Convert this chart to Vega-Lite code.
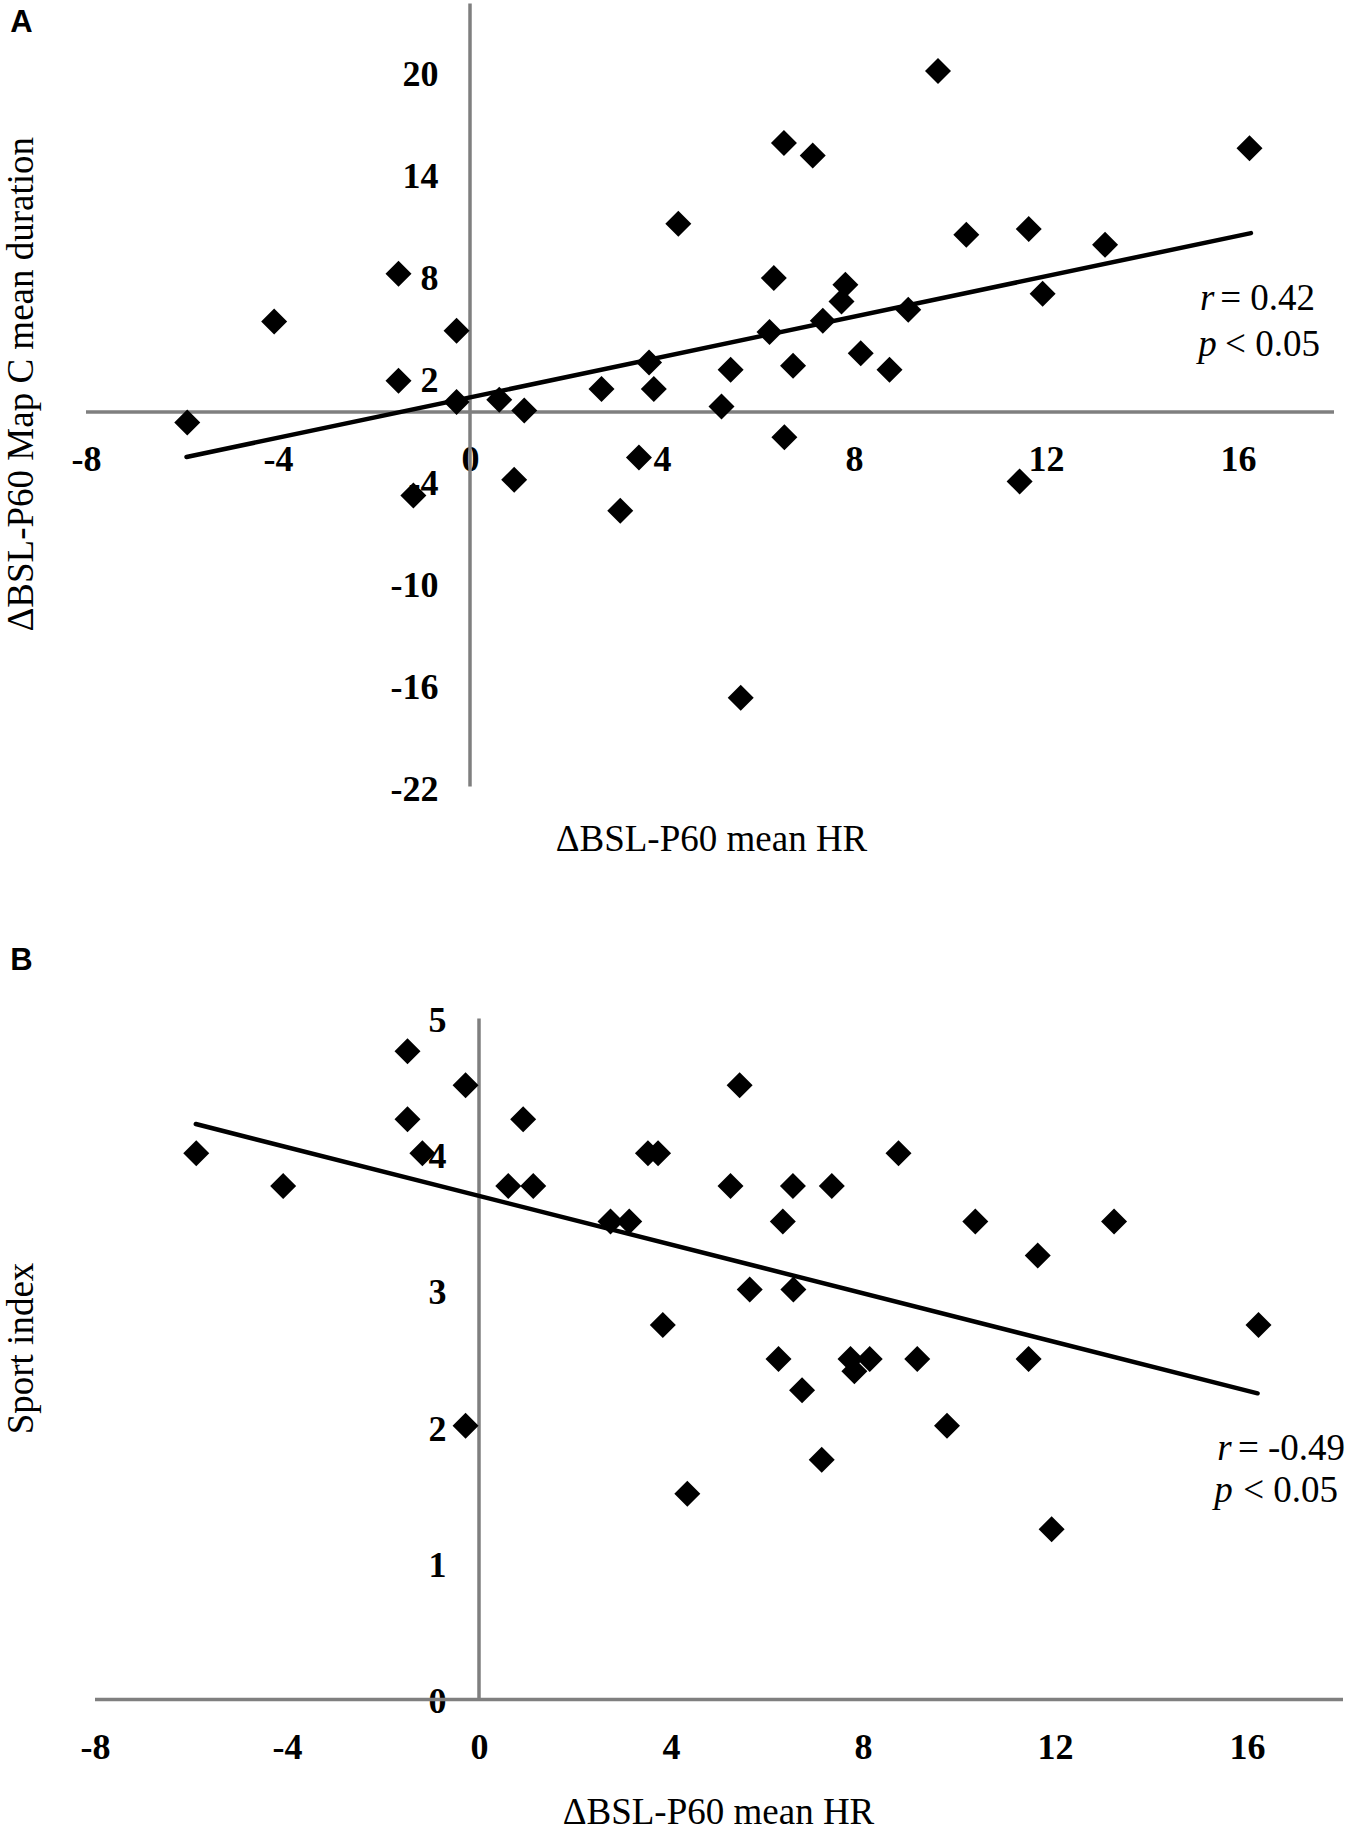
{
  "$schema": "https://vega.github.io/schema/vega-lite/v6.json",
  "background": "white",
  "padding": {"left": 2, "top": 1.5, "right": 4, "bottom": 0},
  "autosize": {"type": "pad"},
  "config": {"view": {"stroke": null}, "axis": {"grid": false}},
  "bounds": "flush",
  "spacing": 232,
  "datasets": {
    "ptsA": [
      {"x": -5.89, "y": -0.61}, {"x": -4.08, "y": 5.32}, {"x": -1.49, "y": 8.12}, {"x": -1.49, "y": 1.84},
      {"x": -1.18, "y": -4.9}, {"x": -0.28, "y": 4.77}, {"x": -0.28, "y": 0.59}, {"x": 0.61, "y": 0.72},
      {"x": 0.92, "y": -3.98}, {"x": 1.13, "y": 0.09}, {"x": 2.74, "y": 1.35}, {"x": 3.13, "y": -5.8},
      {"x": 3.52, "y": -2.67}, {"x": 3.73, "y": 2.91}, {"x": 3.83, "y": 1.35}, {"x": 4.34, "y": 11.06},
      {"x": 5.24, "y": 0.33}, {"x": 5.43, "y": 2.48}, {"x": 5.64, "y": -16.79}, {"x": 6.24, "y": 4.7},
      {"x": 6.33, "y": 7.87}, {"x": 6.54, "y": 15.8}, {"x": 6.55, "y": -1.48}, {"x": 6.73, "y": 2.72},
      {"x": 7.14, "y": 15.07}, {"x": 7.35, "y": 5.36}, {"x": 7.74, "y": 6.49}, {"x": 7.82, "y": 7.47},
      {"x": 8.14, "y": 3.46}, {"x": 8.74, "y": 2.48}, {"x": 9.13, "y": 6.01}, {"x": 9.75, "y": 20.04},
      {"x": 10.34, "y": 10.41}, {"x": 11.45, "y": -4.08}, {"x": 11.64, "y": 10.75}, {"x": 11.93, "y": 6.95},
      {"x": 13.23, "y": 9.82}, {"x": 16.24, "y": 15.5}
    ],
    "ptsB": [
      {"x": -5.89, "y": 4.01}, {"x": -4.08, "y": 3.77}, {"x": -1.49, "y": 4.76}, {"x": -1.49, "y": 4.26},
      {"x": -1.18, "y": 4.01}, {"x": -0.28, "y": 4.51}, {"x": -0.28, "y": 2.01}, {"x": 0.61, "y": 3.77},
      {"x": 0.92, "y": 4.26}, {"x": 1.13, "y": 3.77}, {"x": 2.74, "y": 3.51}, {"x": 3.13, "y": 3.51},
      {"x": 3.52, "y": 4.01}, {"x": 3.73, "y": 4.01}, {"x": 3.83, "y": 2.75}, {"x": 4.34, "y": 1.51},
      {"x": 5.24, "y": 3.77}, {"x": 5.43, "y": 4.51}, {"x": 5.64, "y": 3.01}, {"x": 6.24, "y": 2.5},
      {"x": 6.33, "y": 3.51}, {"x": 6.54, "y": 3.77}, {"x": 6.55, "y": 3.01}, {"x": 6.73, "y": 2.27},
      {"x": 7.14, "y": 1.76}, {"x": 7.35, "y": 3.77}, {"x": 7.74, "y": 2.5}, {"x": 7.82, "y": 2.41},
      {"x": 8.14, "y": 2.5}, {"x": 8.74, "y": 4.01}, {"x": 9.13, "y": 2.5}, {"x": 9.75, "y": 2.01},
      {"x": 10.34, "y": 3.51}, {"x": 11.45, "y": 2.5}, {"x": 11.64, "y": 3.26}, {"x": 11.93, "y": 1.25},
      {"x": 13.23, "y": 3.51}, {"x": 16.24, "y": 2.75}
    ],
    "axA": [
      {"x": -8, "x2": 18, "y": 0, "y2": 0},
      {"x": 0, "x2": 0, "y": -22, "y2": 24}
    ],
    "axB": [
      {"x": -8, "x2": 18, "y": 0, "y2": 0},
      {"x": 0, "x2": 0, "y": 0, "y2": 5}
    ],
    "fitA": [{"x": -5.906, "y": -2.64}, {"x": 16.27, "y": 10.51}],
    "fitB": [{"x": -5.9, "y": 4.225}, {"x": 16.22, "y": 2.248}],
    "itA": [{"x": 15.21, "y": 6.01, "t": "r"}, {"x": 15.17, "y": 3.31, "t": "p"}],
    "reA": [{"x": 15.63, "y": 6.01, "t": "= 0.42"}, {"x": 15.73, "y": 3.31, "t": "< 0.05"}],
    "itB": [{"x": 15.38, "y": 1.758, "t": "r"}, {"x": 15.32, "y": 1.45, "t": "p"}],
    "reB": [{"x": 15.81, "y": 1.758, "t": "= -0.49"}, {"x": 15.92, "y": 1.45, "t": "< 0.05"}],
    "letA": [{"x": -9.58, "y": 23.76, "t": "A"}],
    "letB": [{"x": -9.767, "y": 5.534, "t": "B"}]
  },
  "vconcat": [
    {
      "width": 1248,
      "height": 783,
      "encoding": {
        "x": {
          "field": "x", "type": "quantitative",
          "scale": {"domain": [-8, 18], "nice": false, "zero": false},
          "axis": {
            "orient": "bottom", "offset": -374.5, "values": [-8, -4, 0, 4, 8, 12, 16],
            "domain": false, "ticks": false, "grid": false,
            "labelPadding": 30, "labelFont": "Liberation Serif", "labelFontWeight": "bold",
            "labelFontSize": 36, "labelColor": "black", "labelFlush": false,
            "labelOverlap": false, "labelBound": false, "labelExpr": "'' + datum.value",
            "title": "ΔBSL-P60 mean HR", "titleFont": "Liberation Serif", "titleFontWeight": "normal",
            "titleFontSize": 37, "titleColor": "black", "titleBaseline": "alphabetic",
            "titleAlign": "center", "titleX": 625, "titleY": 438
          }
        },
        "y": {
          "field": "y", "type": "quantitative",
          "scale": {"domain": [-22, 24], "nice": false, "zero": false},
          "axis": {
            "orient": "left", "offset": -384, "values": [-22, -16, -10, -4, 2, 8, 14, 20],
            "domain": false, "ticks": false, "grid": false,
            "labelPadding": 32, "labelOffset": 3, "labelFont": "Liberation Serif", "labelFontWeight": "bold",
            "labelFontSize": 36, "labelColor": "black", "labelFlush": false,
            "labelOverlap": false, "labelBound": false, "labelExpr": "'' + datum.value",
            "title": "ΔBSL-P60 Map C mean duration", "titleFont": "Liberation Serif", "titleFontWeight": "normal",
            "titleFontSize": 37, "titleColor": "black", "titleAngle": 270, "titleBaseline": "alphabetic",
            "titleAlign": "center", "titleX": -437.8, "titleY": 380.2
          }
        }
      },
      "layer": [
        {
          "data": {"name": "axA"},
          "mark": {"type": "rule", "color": "#7f7f7f", "strokeWidth": 3.5},
          "encoding": {"x2": {"field": "x2"}, "y2": {"field": "y2"}}
        },
        {
          "data": {"name": "fitA"},
          "mark": {"type": "line", "color": "black", "strokeWidth": 4.5, "strokeCap": "round"},
          "encoding": {}
        },
        {
          "data": {"name": "ptsA"},
          "mark": {"type": "point", "shape": "diamond", "filled": true, "size": 676, "color": "black", "opacity": 1, "strokeWidth": 0},
          "encoding": {}
        },
        {
          "data": {"name": "itA"},
          "mark": {"type": "text", "font": "Liberation Serif", "fontStyle": "italic", "fontSize": 37, "align": "left", "baseline": "alphabetic", "color": "black"},
          "encoding": {"text": {"field": "t"}}
        },
        {
          "data": {"name": "reA"},
          "mark": {"type": "text", "font": "Liberation Serif", "fontSize": 37, "align": "left", "baseline": "alphabetic", "color": "black"},
          "encoding": {"text": {"field": "t"}}
        },
        {
          "data": {"name": "letA"},
          "mark": {"type": "text", "font": "Liberation Sans", "fontWeight": "bold", "fontSize": 31, "align": "left", "baseline": "top", "color": "black"},
          "encoding": {"text": {"field": "t"}}
        }
      ]
    },
    {
      "width": 1257,
      "height": 681,
      "encoding": {
        "x": {
          "field": "x", "type": "quantitative",
          "scale": {"domain": [-8.1875, 18], "nice": false, "zero": false},
          "axis": {
            "orient": "bottom", "offset": 0, "values": [-8, -4, 0, 4, 8, 12, 16],
            "domain": false, "ticks": false, "grid": false,
            "labelPadding": 31, "labelFont": "Liberation Serif", "labelFontWeight": "bold",
            "labelFontSize": 36, "labelColor": "black", "labelFlush": false,
            "labelOverlap": false, "labelBound": false, "labelExpr": "'' + datum.value",
            "title": "ΔBSL-P60 mean HR", "titleFont": "Liberation Serif", "titleFontWeight": "normal",
            "titleFontSize": 37, "titleColor": "black", "titleBaseline": "alphabetic",
            "titleAlign": "center", "titleX": 632, "titleY": 123.5
          }
        },
        "y": {
          "field": "y", "type": "quantitative",
          "scale": {"domain": [0, 5], "nice": false, "zero": false},
          "axis": {
            "orient": "left", "offset": -393, "values": [0, 1, 2, 3, 4, 5],
            "domain": false, "ticks": false, "grid": false,
            "labelPadding": 33, "labelOffset": 2, "labelFont": "Liberation Serif", "labelFontWeight": "bold",
            "labelFontSize": 36, "labelColor": "black", "labelFlush": false,
            "labelOverlap": false, "labelBound": false, "labelExpr": "'' + datum.value",
            "title": "Sport index", "titleFont": "Liberation Serif", "titleFontWeight": "normal",
            "titleFontSize": 37, "titleColor": "black", "titleAngle": 270, "titleBaseline": "alphabetic",
            "titleAlign": "center", "titleX": -446.8, "titleY": 329.5
          }
        }
      },
      "layer": [
        {
          "data": {"name": "axB"},
          "mark": {"type": "rule", "color": "#7f7f7f", "strokeWidth": 3.5},
          "encoding": {"x2": {"field": "x2"}, "y2": {"field": "y2"}}
        },
        {
          "data": {"name": "fitB"},
          "mark": {"type": "line", "color": "black", "strokeWidth": 4.5, "strokeCap": "round"},
          "encoding": {}
        },
        {
          "data": {"name": "ptsB"},
          "mark": {"type": "point", "shape": "diamond", "filled": true, "size": 676, "color": "black", "opacity": 1, "strokeWidth": 0},
          "encoding": {}
        },
        {
          "data": {"name": "itB"},
          "mark": {"type": "text", "font": "Liberation Serif", "fontStyle": "italic", "fontSize": 37, "align": "left", "baseline": "alphabetic", "color": "black"},
          "encoding": {"text": {"field": "t"}}
        },
        {
          "data": {"name": "reB"},
          "mark": {"type": "text", "font": "Liberation Serif", "fontSize": 37, "align": "left", "baseline": "alphabetic", "color": "black"},
          "encoding": {"text": {"field": "t"}}
        },
        {
          "data": {"name": "letB"},
          "mark": {"type": "text", "font": "Liberation Sans", "fontWeight": "bold", "fontSize": 31, "align": "left", "baseline": "top", "color": "black"},
          "encoding": {"text": {"field": "t"}}
        }
      ]
    }
  ]
}
